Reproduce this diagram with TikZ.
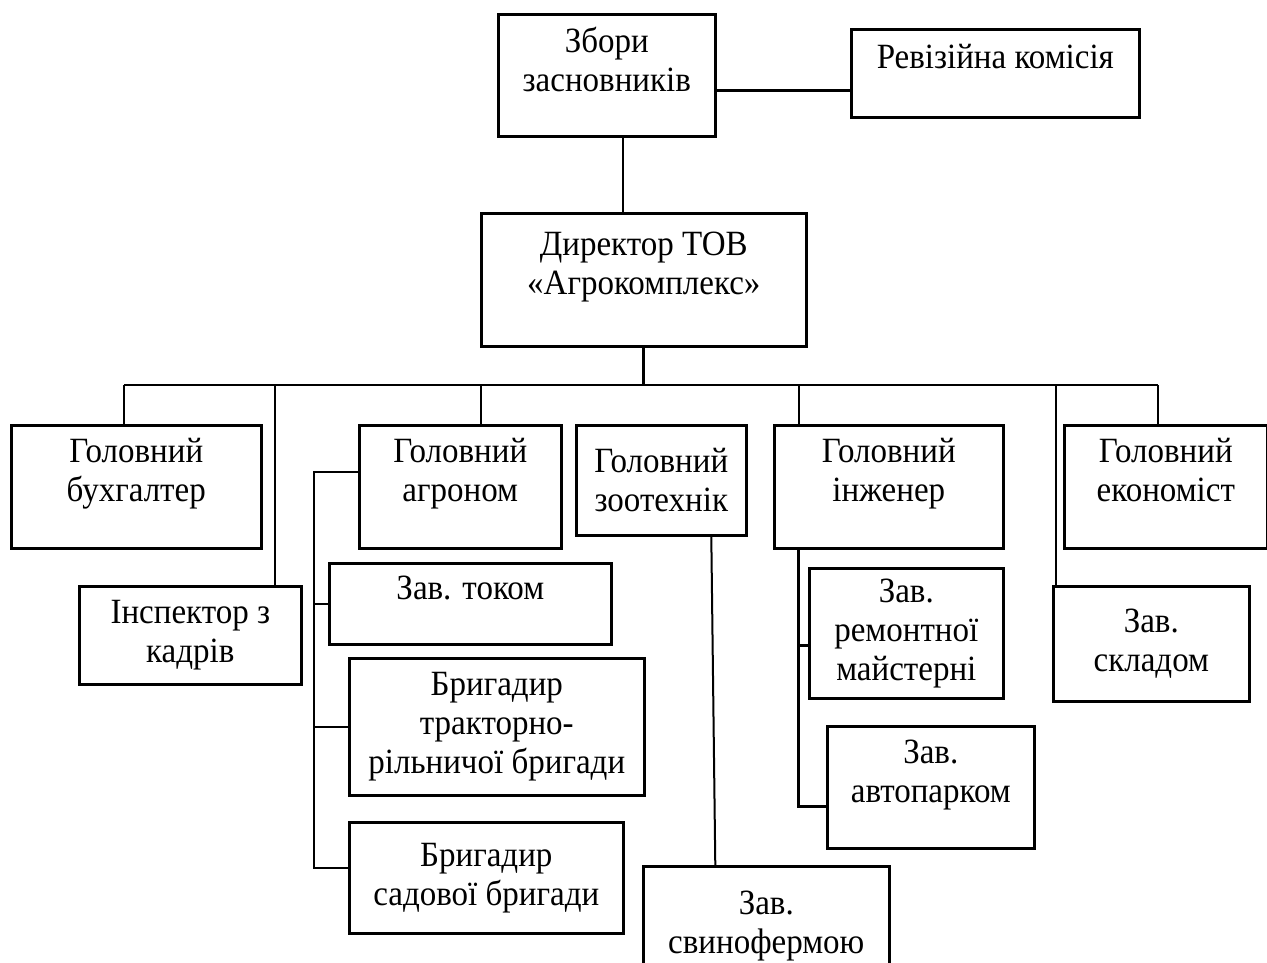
\documentclass[tikz,border=0pt]{standalone}
\usepackage{fontspec}
\setmainfont{Liberation Serif}[FakeStretch=0.93]
\newcommand{\lowgap}{\\[-6pt]\mbox{}}
\tikzset{
    box/.style={rectangle, draw=black, line width=2.6pt, align=center, anchor=north west,
        inner sep=0pt, font=\fontsize{35.5}{39}\selectfont},
    link/.style={line width=2pt},
    mainlink/.style={line width=2.8pt},
}
\begin{document}
\begin{tikzpicture}[x=1pt, y=-1pt]
    \useasboundingbox (0,0) rectangle (1267,962);
    \clip (0,0) rectangle (1267,962);
    % top level
    \node[box, minimum width=217pt, minimum height=122pt] (zbory) at (497,13) {Збори\\засновників\lowgap};
    \node[box, minimum width=288pt, minimum height=88pt] (reviz) at (850,28) {Ревізійна комісія\lowgap};
    \node[box, minimum width=325pt, minimum height=133pt] (dyr) at (480,212) {Директор ТОВ\\«Агрокомплекс»\lowgap};
    % heads
    \node[box, minimum width=250pt, minimum height=123pt] (buh) at (10,424) {Головний\\бухгалтер\lowgap};
    \node[box, minimum width=222pt, minimum height=98pt] (insp) at (78,585) {Інспектор з\\кадрів};
    \node[box, minimum width=202pt, minimum height=123pt] (agro) at (358,424) {Головний\\агроном\lowgap};
    \node[box, minimum width=170pt, minimum height=110pt] (zoo) at (575,424) {Головний\\зоотехнік};
    \node[box, minimum width=229pt, minimum height=123pt] (inzh) at (773,424) {Головний\\інженер\lowgap};
    \node[box, minimum width=203pt, minimum height=123pt] (ekon) at (1063,424) {Головний\\економіст\lowgap};
    % under agronom
    \node[box, minimum width=282pt, minimum height=81pt] (tok) at (328,562) {Зав. током\lowgap};
    \node[box, minimum width=295pt, minimum height=137pt] (trakt) at (348,657) {Бригадир\\тракторно-\\рільничої бригади};
    \node[box, minimum width=274pt, minimum height=111pt] (sad) at (348,821) {Бригадир\\садової бригади};
    % under zootechnik, engineer, warehouse
    \node[box, minimum width=246pt, minimum height=120pt] (svyn) at (642,865) {Зав.\\свинофермою};
    \node[box, minimum width=194pt, minimum height=130pt] (remont) at (808,567) {Зав.\\ремонтної\\майстерні};
    \node[box, minimum width=207pt, minimum height=122pt] (avto) at (826,725) {Зав.\\автопарком\lowgap};
    \node[box, minimum width=196pt, minimum height=115pt] (sklad) at (1052,585) {Зав.\\складом};

    \coordinate (busL) at (124,385);
    \coordinate (busR) at (1158,385);

    \draw[mainlink] ([yshift=-15pt]zbory.east) -- ([yshift=-17pt]reviz.west);
    \draw[link] ([xshift=16pt]zbory.south) -- ([xshift=16pt]zbory.south |- dyr.north);
    \draw[mainlink] (dyr.south) -- (dyr.south |- busL);
    \draw[link] (busL) -- (busR);
    \draw[link] (busL) -- (busL |- buh.north);
    \draw[link] ([xshift=85pt]insp.north) -- ++(0,-200);
    \draw[link] ([xshift=21pt]agro.north) -- ++(0,-39);
    \draw[link] ([xshift=-90pt]inzh.north) -- ++(0,-39);
    \draw[link] ([xshift=-95pt]sklad.north) -- ++(0,-200);
    \draw[link] (busR) -- (busR |- ekon.north);

    \draw[link] ([yshift=15pt]agro.west) -- ++(-44,0) |- ([yshift=10pt]sad.west);
    \draw[link] (tok.west) -- ++(-14,0);
    \draw[link] (trakt.west) -- ++(-34,0);

    \draw[link] ([xshift=50pt]zoo.south) -- ([xshift=-51pt]svyn.north);

    \draw[mainlink] ([xshift=-90pt]inzh.south) |- ([yshift=-19pt]avto.west);
    \draw[mainlink] ([yshift=-12pt]remont.west) -- ++(-11,0);
\end{tikzpicture}
\end{document}
